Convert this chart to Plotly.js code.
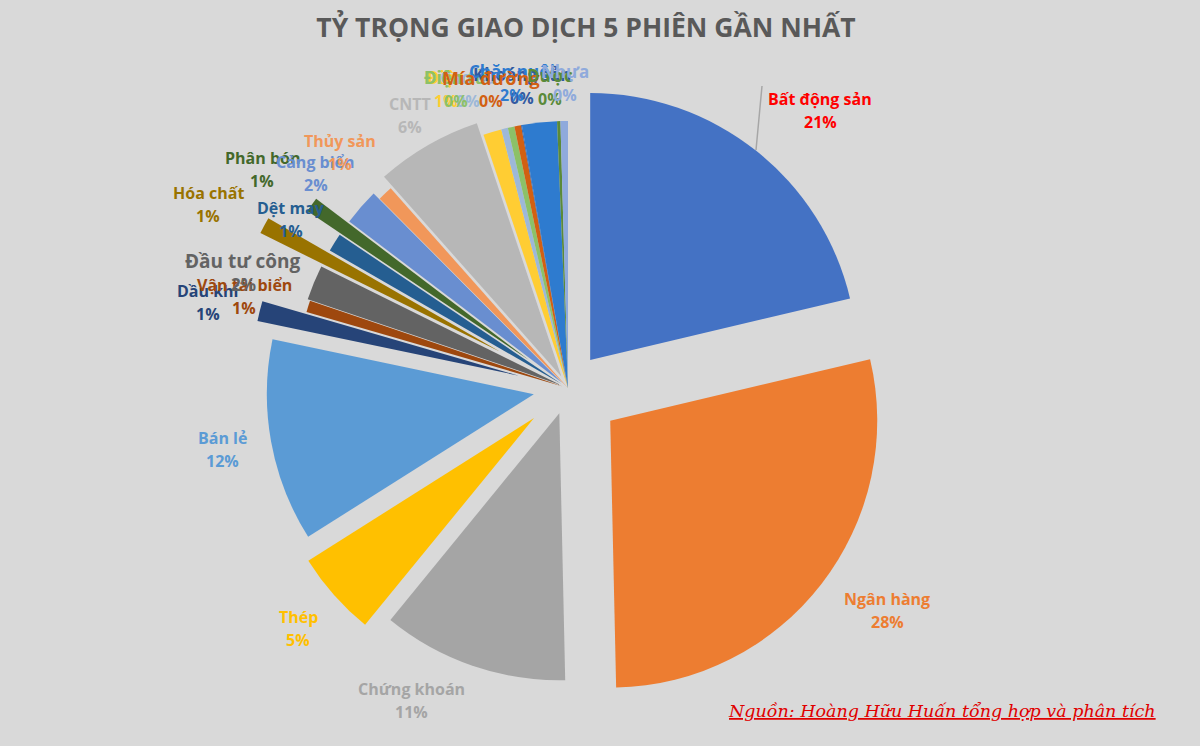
<!DOCTYPE html>
<html>
<head>
<meta charset="utf-8">
<script src="https://cdn.plot.ly/plotly-3.0.1.min.js"></script>
<style>html,body{margin:0;padding:0;background:#D9D9D9;}#chart{width:1200px;height:746px;}</style>
</head>
<body>
<div id="chart"></div>
<script>
// ---- data ----
const categories = ["Bất động sản","Ngân hàng","Chứng khoán","Thép","Bán lẻ","Dầu khí","Vận tải biển","Đầu tư công","Hóa chất","Dệt may","Phân bón","Cảng biển","Thủy sản","CNTT","Điện","Cao su","Điện tử","Mía đường","Khoáng sản","Chăn nuôi","Dược","Nhựa"];
const shares = [21.2,28.2,11.2,5.1,12.2,1.2,0.7,2.1,1.0,1.1,0.9,2.2,0.9,6.4,1.1,0.4,0.4,0.4,0.05,2.1,0.2,0.45];
const titleText = "TỶ TRỌNG GIAO DỊCH 5 PHIÊN GẦN NHẤT";
const sourceText = "Nguồn: Hoàng Hữu Huấn tổng hợp và phân tích";

// ---- styles ----
const sliceColors = ["#4472C4","#ED7D31","#A5A5A5","#FFC000","#5B9BD5","#264478","#9E480E","#636363","#997300","#255E91","#43682B","#698ED0","#F1975A","#B7B7B7","#FFCD33","#9DB8D8","#8CC168","#D26012","#335AA1","#2E7BCF","#5A8A39","#8FAADC"];
const labelColors = ["#FF0000","#ED7D31","#A5A5A5","#FFC000","#5B9BD5","#264478","#9E480E","#636363","#997300","#255E91","#43682B","#698ED0","#F1975A","#B7B7B7","#FFCD33","#9DB8D8","#8CC168","#D26012","#335AA1","#2E7BCF","#5A8A39","#8FAADC"];
const pulls = [0.134,0.2,0.1,0.17,0.13,0.19,0.02,0.03,0.29,0.03,0.18,0.03,0.0,0.05,0,0,0,0,0,0,0,0];
// label positions in pixels (name line centre; pct line is 23px lower)
const labelPos = [[820,99],[887,599],[411,689],[298,617],[222,438],[208,291],[244,285],[243,261],[208,193],[291,208],[262,158],[316,162],[340,141],[410,104],[446,78],[468,78],[456,78],[491,78],[522,75],[512,72],[550,76],[565,72]];
const labelSizes = [16,16,16,16,16,16,16,19,16,16,16,16,16,16,17,17,17,18,17,17,17,17];
// drawing order of the labels (later ones on top)
const drawOrder = [0,1,2,3,4,5,6,7,8,9,10,11,12,13,14,15,16,18,19,17,20,21];

const W = 1200, H = 746;
const px = x => x / W, py = y => 1 - y / H;

const total = shares.reduce((a,b)=>a+b,0);
const annotations = [];
drawOrder.forEach(i=>{
  const c = categories[i];
  const pct = Math.round(shares[i]/total*100) + "%";
  const [x,y] = labelPos[i];
  const f = {family:"Open Sans, sans-serif", size:labelSizes[i], color:labelColors[i], weight:"bold"};
  annotations.push({xref:"paper",yref:"paper",x:px(x),y:py(y),text:c,showarrow:false,xanchor:"center",yanchor:"middle",font:f});
  annotations.push({xref:"paper",yref:"paper",x:px(x),y:py(y+23),text:pct,showarrow:false,xanchor:"center",yanchor:"middle",font:Object.assign({},f,{size:Math.max(16,labelSizes[i]-2)})});
});
annotations.push({xref:"paper",yref:"paper",x:px(1158),y:py(711),xanchor:"right",yanchor:"middle",showarrow:false,text:sourceText,
  font:{family:"DejaVu Serif, serif",size:17.5,color:"#E00000",style:"italic",lineposition:"under"}});

// pie geometry: centre (568,388), radius 267
const maxPull = Math.max(...pulls);
const half = 267*(1+maxPull);
const cx = 568, cy = 388;
const trace = {
  type:"pie", values:shares, labels:categories, sort:false, direction:"clockwise", rotation:0,
  marker:{colors:sliceColors, line:{width:0}}, pull:pulls, textinfo:"none", hoverinfo:"label+percent",
  domain:{x:[px(cx-half),px(cx+half)], y:[py(cy+half),py(cy-half)]}, showlegend:false
};

const layout = {
  width:W, height:H, margin:{l:0,r:0,t:0,b:0}, paper_bgcolor:"#D9D9D9", plot_bgcolor:"#D9D9D9",
  title:{text:titleText, x:px(586), xanchor:"center", y:py(28), yanchor:"middle",
    font:{family:"Open Sans, sans-serif", size:26.5, color:"#595959", weight:"bold"}},
  annotations:annotations,
  shapes:[{type:"line",xref:"paper",yref:"paper",x0:px(756),y0:py(150),x1:px(762),y1:py(86),line:{color:"#A6A6A6",width:1.5}}],
  showlegend:false
};
Plotly.newPlot("chart",[trace],layout,{displayModeBar:false,staticPlot:true});
</script>
</body>
</html>
